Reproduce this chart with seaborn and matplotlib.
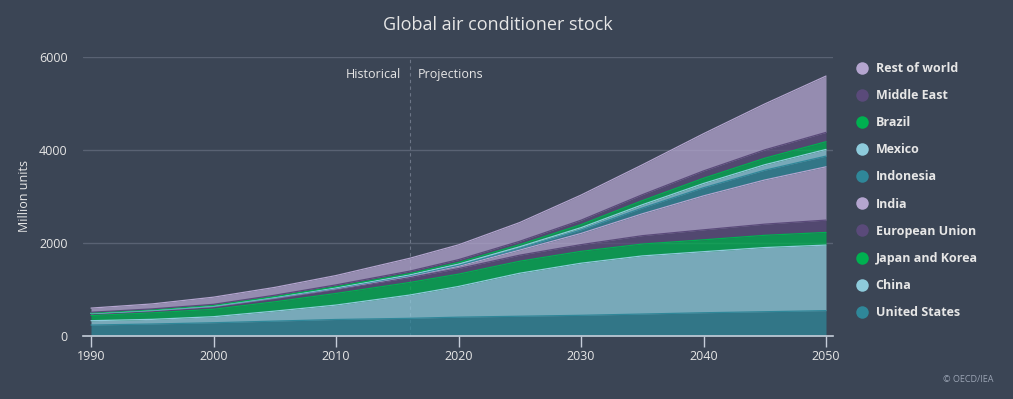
import numpy as np
import pandas as pd
import matplotlib
matplotlib.use('Agg')
import matplotlib.pyplot as plt
from matplotlib.lines import Line2D
import seaborn as sns

# Data (million units)
years = [1990, 1995, 2000, 2005, 2010, 2016, 2020, 2025, 2030, 2035, 2040, 2045, 2050]
united_states = [236, 258, 285, 320, 355, 380, 405, 425, 445, 472, 500, 522, 545]
china = [93, 100, 130, 215, 310, 500, 660, 925, 1120, 1250, 1313, 1380, 1410]
japan_korea = [110, 140, 160, 200, 250, 270, 265, 258, 255, 255, 255, 263, 272]
european_union = [40, 45, 55, 72, 87, 106, 120, 130, 145, 180, 215, 240, 265]
india = [4, 5, 7, 10, 15, 27, 50, 110, 240, 470, 730, 950, 1146]
indonesia = [2, 3, 4, 6, 9, 14, 22, 38, 75, 125, 175, 210, 230]
mexico = [5, 6, 8, 10, 13, 18, 25, 34, 50, 70, 92, 118, 144]
brazil = [6, 8, 10, 14, 20, 27, 35, 45, 65, 88, 112, 140, 166]
middle_east = [15, 18, 22, 30, 40, 52, 60, 72, 95, 128, 158, 180, 200]
rest_of_world = [89, 107, 154, 168, 201, 276, 318, 403, 540, 642, 800, 987, 1212]

series_names = ['United States', 'China', 'Japan and Korea', 'European Union', 'India',
                'Indonesia', 'Mexico', 'Brazil', 'Middle East', 'Rest of world']
series_values = [united_states, china, japan_korea, european_union, india,
                 indonesia, mexico, brazil, middle_east, rest_of_world]
series_colors = ['#2f8799', '#8ecbdc', '#00b050', '#5a4a7a', '#b4a5cf',
                 '#2f8799', '#8ecbdc', '#00b050', '#5a4a7a', '#b4a5cf']

bg = '#3b4555'
text_col = '#e6e6e6'

sns.set_theme(style='dark')
plt.rcParams['font.family'] = ['Open Sans', 'DejaVu Sans']

fig = plt.figure(figsize=(10.13, 3.99), dpi=100, facecolor=bg)
ax = fig.add_axes([83 / 1013, 1 - 336 / 399, 750 / 1013, 279 / 399])
ax.set_facecolor(bg)

# stacked areas
ax.stackplot(years, *series_values, colors=series_colors, alpha=0.75, linewidth=0, zorder=2)

# top edge of each band
tops = np.cumsum(np.array(series_values), axis=0)
df = pd.DataFrame({
    'year': np.tile(years, len(series_names)),
    'value': tops.ravel(),
    'series': np.repeat(series_names, len(years)),
})
sns.lineplot(data=df, x='year', y='value', hue='series', hue_order=series_names,
             palette=dict(zip(series_names, series_colors)), linewidth=0.9,
             legend=False, ax=ax, zorder=3)

ax.set_xlim(1990 - 8 / 12.25, 2050 + 7 / 12.25)
ax.set_ylim(0, 6000)
ax.set_yticks([0, 2000, 4000, 6000])
ax.set_xticks([1990, 2000, 2010, 2020, 2030, 2040, 2050])
ax.grid(False)
for yv in [2000, 4000, 6000]:
    ax.axhline(yv, color='#596273', lw=1, zorder=1)

for s in ['top', 'right', 'left']:
    ax.spines[s].set_visible(False)
ax.spines['bottom'].set_color('#c6ceda')
ax.spines['bottom'].set_linewidth(1.2)
ax.tick_params(axis='x', colors='#c6ceda', length=8, width=1, direction='out',
               labelcolor=text_col, labelsize=9, pad=2, bottom=True)
ax.tick_params(axis='y', length=0, labelcolor=text_col, labelsize=9, pad=11)
ax.set_xlabel('')
ax.set_ylabel('Million units', color=text_col, fontsize=9, labelpad=6)

# historical / projections divider
ax.axvline(2016, color='#6c7586', lw=0.8, ls=(0, (3, 3)), zorder=1)
ax.text(2016 - 0.7, 5620, 'Historical', color=text_col, fontsize=9, ha='right', va='center')
ax.text(2016 + 0.7, 5620, 'Projections', color=text_col, fontsize=9, ha='left', va='center')

fig.text(498 / 1013, 1 - 25 / 399, 'Global air conditioner stock', color=text_col,
         fontsize=13, ha='center', va='center')
fig.text(993 / 1013, 1 - 380 / 399, '© OECD/IEA', color='#9aa3b3', fontsize=6.5,
         ha='right', va='center')

handles = [Line2D([], [], ls='none', marker='o', markersize=9, markerfacecolor=c,
                  markeredgewidth=0) for c in series_colors[::-1]]
leg = fig.legend(handles, series_names[::-1], loc='upper left',
                 bbox_to_anchor=(848 / 1013, 1 - 57 / 399), frameon=False,
                 fontsize=9, labelspacing=1.13, handletextpad=0.3, handlelength=1.5,
                 borderaxespad=0)
for t in leg.get_texts():
    t.set_color(text_col)
    t.set_fontweight('bold')

fig.savefig('out.png', dpi=100, facecolor=bg)
